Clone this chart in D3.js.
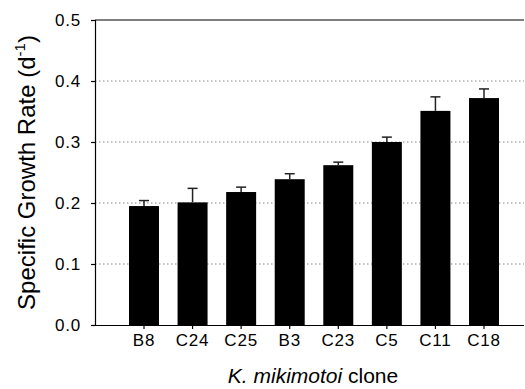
<!DOCTYPE html>
<html>
<head>
<meta charset="utf-8">
<script src="https://d3js.org/d3.v7.min.js"></script>
<style>
  body { margin: 0; background: #fff; }
  text { font-family: "Liberation Sans", Arial, sans-serif; fill: #000; }
</style>
</head>
<body>
<div class="vis"></div>
<script>
  // data
  var clones = ['B8', 'C24', 'C25', 'B3', 'C23', 'C5', 'C11', 'C18'];
  var rates = [0.195, 0.201, 0.218, 0.239, 0.262, 0.300, 0.351, 0.372];
  var errs = [0.009, 0.023, 0.008, 0.009, 0.005, 0.008, 0.023, 0.015];
  var yTicks = [0.0, 0.1, 0.2, 0.3, 0.4, 0.5];

  var width = 525, height = 389;
  // plot edges (note: "top" is taken by window.top)
  var plotL = 95, plotR = 524, plotT = 20, plotB = 325;

  var svg = d3.select('.vis').append('svg')
    .attr('width', width)
    .attr('height', height);

  var x = d3.scaleBand()
    .domain(clones)
    .range([plotL + 34, plotR - 25])
    .paddingInner(0.3826)
    .paddingOuter(0);

  var y = d3.scaleLinear()
    .domain([0, 0.5])
    .range([plotB, plotT]);

  // dotted grid lines
  svg.append('g')
    .selectAll('line')
    .data(yTicks.slice(1, 5))
    .join('line')
    .attr('x1', plotL)
    .attr('x2', plotR)
    .attr('y1', function (d) { return y(d); })
    .attr('y2', function (d) { return y(d); })
    .attr('stroke', '#888')
    .attr('stroke-width', 1)
    .attr('stroke-dasharray', '1.5,2.5');

  // frame top
  svg.append('line')
    .attr('x1', plotL).attr('x2', plotR)
    .attr('y1', y(0.5)).attr('y2', y(0.5))
    .attr('stroke', '#555')
    .attr('stroke-width', 1.5);

  // bars
  svg.append('g')
    .selectAll('rect')
    .data(clones)
    .join('rect')
    .attr('x', function (d) { return x(d); })
    .attr('y', function (d, i) { return y(rates[i]); })
    .attr('width', x.bandwidth())
    .attr('height', function (d, i) { return y(0) - y(rates[i]); })
    .attr('fill', '#000');

  // error bars (upper only)
  var eb = svg.append('g')
    .attr('stroke', '#222')
    .attr('stroke-width', 1.5);

  clones.forEach(function (c, i) {
    var cx = x(c) + x.bandwidth() / 2;
    eb.append('line')
      .attr('x1', cx).attr('x2', cx)
      .attr('y1', y(rates[i])).attr('y2', y(rates[i] + errs[i]));
    eb.append('line')
      .attr('x1', cx - 5).attr('x2', cx + 5)
      .attr('y1', y(rates[i] + errs[i])).attr('y2', y(rates[i] + errs[i]));
  });

  // axes
  var yAxis = svg.append('g')
    .attr('transform', 'translate(' + plotL + ',0)')
    .call(d3.axisLeft(y).tickValues(yTicks).tickFormat(d3.format('.1f')).tickSize(4).tickPadding(10));

  var xAxis = svg.append('g')
    .attr('transform', 'translate(0,' + plotB + ')')
    .call(d3.axisBottom(x).tickSize(4).tickPadding(5).tickSizeOuter(0));

  xAxis.select('.domain').attr('d', 'M' + plotL + ',0.5H' + plotR);

  [yAxis, xAxis].forEach(function (g) {
    g.select('.domain').attr('stroke', '#000').attr('stroke-width', 1.2);
    g.selectAll('.tick line').attr('stroke', '#000').attr('stroke-width', 1.2);
    g.selectAll('.tick text')
      .attr('font-family', '"Liberation Sans", Arial, sans-serif')
      .attr('font-size', 17)
      .attr('letter-spacing', 0.8)
      .attr('fill', '#000');
  });

  // y title
  var yt = svg.append('text')
    .attr('transform', 'translate(35,' + ((plotT + plotB) / 2) + ') rotate(-90)')
    .attr('text-anchor', 'middle')
    .attr('font-size', 24);
  yt.append('tspan').text('Specific Growth Rate (d');
  yt.append('tspan').attr('font-size', 15).attr('dy', -10).text('-1');
  yt.append('tspan').attr('dy', 10).text(')');

  // x title
  var xt = svg.append('text')
    .attr('x', 313)
    .attr('y', 383)
    .attr('text-anchor', 'middle')
    .attr('font-size', 21);
  xt.append('tspan').attr('font-style', 'italic').text('K. mikimotoi');
  xt.append('tspan').text(' clone');
</script>
</body>
</html>
